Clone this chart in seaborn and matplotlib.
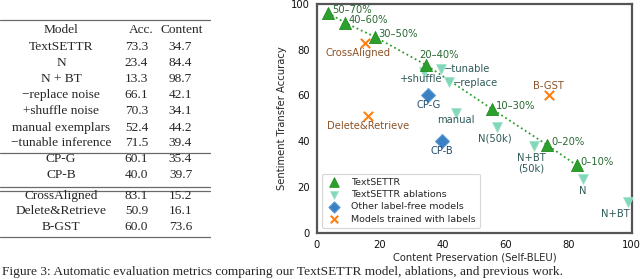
import matplotlib
matplotlib.use("Agg")
import matplotlib.pyplot as plt
import seaborn as sns
import pandas as pd

sns.set_style("white")
plt.rcParams['font.family'] = ['DejaVu Sans']

# ---------------- data ----------------
settr_labels = ["50–70%", "40–60%", "30–50%", "20–40%", "10–30%", "0–20%", "0–10%"]
settr_x = [3.4, 8.9, 18.3, 34.7, 55.7, 73.2, 82.5]
settr_y = [96.2, 91.8, 85.7, 73.3, 54.0, 38.3, 29.5]

abl_labels = ["−tunable", "−replace", "+shuffle", "manual", "N(50k)", "N+BT\n(50k)", "N", "N+BT"]
abl_x = [39.4, 42.1, 34.1, 44.2, 57.3, 68.8, 84.4, 98.7]
abl_y = [71.5, 66.1, 70.3, 52.4, 46.3, 37.9, 23.4, 13.3]

free_labels = ["CP-G", "CP-B"]
free_x = [35.4, 39.7]
free_y = [60.1, 40.0]

lab_labels = ["CrossAligned", "Delete&Retrieve", "B-GST"]
lab_x = [15.2, 16.1, 73.6]
lab_y = [83.1, 50.9, 60.0]

group_names = ["TextSETTR", "TextSETTR ablations", "Other label-free models", "Models trained with labels"]

table_header = ["Model", "Acc.", "Content"]
table_models = ["TextSETTR", "N", "N + BT", "−replace noise", "+shuffle noise",
                "manual exemplars", "−tunable inference", "CP-G", "CP-B",
                "CrossAligned", "Delete&Retrieve", "B-GST"]
table_acc = ["73.3", "23.4", "13.3", "66.1", "70.3", "52.4", "71.5", "60.1", "40.0", "83.1", "50.9", "60.0"]
table_content = ["34.7", "84.4", "98.7", "42.1", "34.1", "44.2", "39.4", "35.4", "39.7", "15.2", "16.1", "73.6"]

caption = "Figure 3: Automatic evaluation metrics comparing our TextSETTR model, ablations, and previous work."

# ---------------- figure ----------------
W, H = 640, 279
fig = plt.figure(figsize=(W / 100, H / 100), dpi=100)

# table / caption layer in pixel coordinates
tax = fig.add_axes([0, 0, 1, 1], zorder=0)
tax.set_xlim(0, W)
tax.set_ylim(H, 0)
tax.axis('off')

serif = ['Liberation Serif', 'DejaVu Serif']
tfs = 9.6
hdr_y = 30
row_y = [47, 62.5, 79, 95, 111.2, 127.6, 143.5, 159, 174.5, 196, 211.5, 227]
tax.text(61, hdr_y, table_header[0], ha='center', va='center', family=serif, fontsize=tfs)
tax.text(141, hdr_y, table_header[1], ha='center', va='center', family=serif, fontsize=tfs)
tax.text(182, hdr_y, table_header[2], ha='center', va='center', family=serif, fontsize=tfs)
for yv, m, a, c in zip(row_y, table_models, table_acc, table_content):
    tax.text(61, yv, m, ha='center', va='center', family=serif, fontsize=tfs)
    tax.text(136.5, yv, a, ha='center', va='center', family=serif, fontsize=tfs)
    tax.text(180.5, yv, c, ha='center', va='center', family=serif, fontsize=tfs)
rule_kw = dict(color='#6a6a6a', lw=0.9)
for yl in [20, 152.6, 187.4, 190.6, 237.3]:
    tax.plot([0, 210], [yl, yl], **rule_kw)

tax.text(2, 278.5, caption, ha='left', va='bottom', family=serif, fontsize=9.6)

# chart axes
x0, x1 = 317, 631.7
y0, y1 = 4, 232.7
ax = fig.add_axes([x0 / W, 1 - y1 / H, (x1 - x0) / W, (y1 - y0) / H], zorder=2)

c_settr = '#2ca02c'
c_abl = '#7dd6b6'
c_free = '#3a80c2'
c_lab = '#ff7f0e'
t_settr = '#2a6a34'
t_abl = '#2f5a58'
t_free = '#244e6e'
t_lab = '#8c5327'

df_s = pd.DataFrame({"x": settr_x, "y": settr_y, "label": settr_labels})
df_a = pd.DataFrame({"x": abl_x, "y": abl_y, "label": abl_labels})
df_f = pd.DataFrame({"x": free_x, "y": free_y, "label": free_labels})
df_l = pd.DataFrame({"x": lab_x, "y": lab_y, "label": lab_labels})

sns.lineplot(data=df_s, x="x", y="y", ax=ax, color=c_settr, linestyle=(0, (1, 1.6)),
             lw=1.3, sort=False, estimator=None, zorder=2, legend=False)
sns.scatterplot(data=df_s, x="x", y="y", ax=ax, marker='^', s=75, color=c_settr,
                edgecolor='#208a20', linewidth=0.6, label=group_names[0], zorder=4)
sns.scatterplot(data=df_a, x="x", y="y", ax=ax, marker='v', s=50, color=c_abl,
                edgecolor='#9ae3c8', linewidth=0.6, alpha=0.95, label=group_names[1], zorder=3)
sns.scatterplot(data=df_f, x="x", y="y", ax=ax, marker='D', s=50, color=c_free,
                edgecolor='#5a9ad6', linewidth=0.8, label=group_names[2], zorder=3)
sns.scatterplot(data=df_l, x="x", y="y", ax=ax, marker='x', s=45, color=c_lab,
                linewidth=1.5, label=group_names[3], zorder=3)

fs = 7.2
def ann(txt, x, y, dx, dy, color, ha='left', va='center'):
    ax.annotate(txt, (x, y), xytext=(dx, dy), textcoords='offset pixels',
                ha=ha, va=va, fontsize=fs, color=color, linespacing=1.0, zorder=5)

# TextSETTR labels
for lbl, xv, yv in zip(settr_labels, settr_x, settr_y):
    if lbl == "20–40%":
        ann(lbl, xv, yv, -7, 10, t_settr, ha='left', va='center')
    else:
        ann(lbl, xv, yv, 4, 3, t_settr)

abl_off = {
    "−tunable": (3, 0, 'left', 'center'),
    "−replace": (3, -1, 'left', 'center'),
    "+shuffle": (-3, -7.5, 'center', 'center'),
    "manual": (0, -7.5, 'center', 'center'),
    "N(50k)": (-3, -12, 'center', 'center'),
    "N+BT\n(50k)": (-2, -7, 'center', 'top'),
    "N": (0, -7, 'center', 'top'),
    "N+BT": (2, -6.5, 'right', 'top'),
}
for lbl, xv, yv in zip(abl_labels, abl_x, abl_y):
    dx, dy, ha, va = abl_off[lbl]
    ann(lbl, xv, yv, dx, dy, t_abl, ha=ha, va=va)

for lbl, xv, yv in zip(free_labels, free_x, free_y):
    ann(lbl, xv, yv, 0, -10, t_free, ha='center')

lab_off = {
    "CrossAligned": (-7, -10.5, 'center'),
    "Delete&Retrieve": (0, -10, 'center'),
    "B-GST": (0, 9.5, 'center'),
}
for lbl, xv, yv in zip(lab_labels, lab_x, lab_y):
    dx, dy, ha = lab_off[lbl]
    ann(lbl, xv, yv, dx, dy, t_lab, ha=ha)

ax.set_xlim(0, 100)
ax.set_ylim(0, 100)
ax.set_xticks([0, 20, 40, 60, 80, 100])
ax.set_yticks([0, 20, 40, 60, 80, 100])
ax.tick_params(axis='both', direction='out', length=3.5, width=1.2, color='#555555',
               labelsize=7.2, pad=1.5, labelcolor='#111111')
for sp in ax.spines.values():
    sp.set_visible(True)
    sp.set_color('#555555')
    sp.set_linewidth(1.6)
ax.set_xlabel("Content Preservation (Self-BLEU)", fontsize=7.2, labelpad=2)
ax.set_ylabel("Sentiment Transfer Accuracy", fontsize=7.2, labelpad=3)

leg = ax.legend(loc='lower left', fontsize=6.8, frameon=True, borderaxespad=0.5,
                handletextpad=0.9, handlelength=1.8, labelspacing=0.35, borderpad=0.45,
                markerscale=0.8)
leg.get_frame().set_edgecolor('#cccccc')
leg.get_frame().set_linewidth(0.8)

fig.savefig("out.png", dpi=100)
